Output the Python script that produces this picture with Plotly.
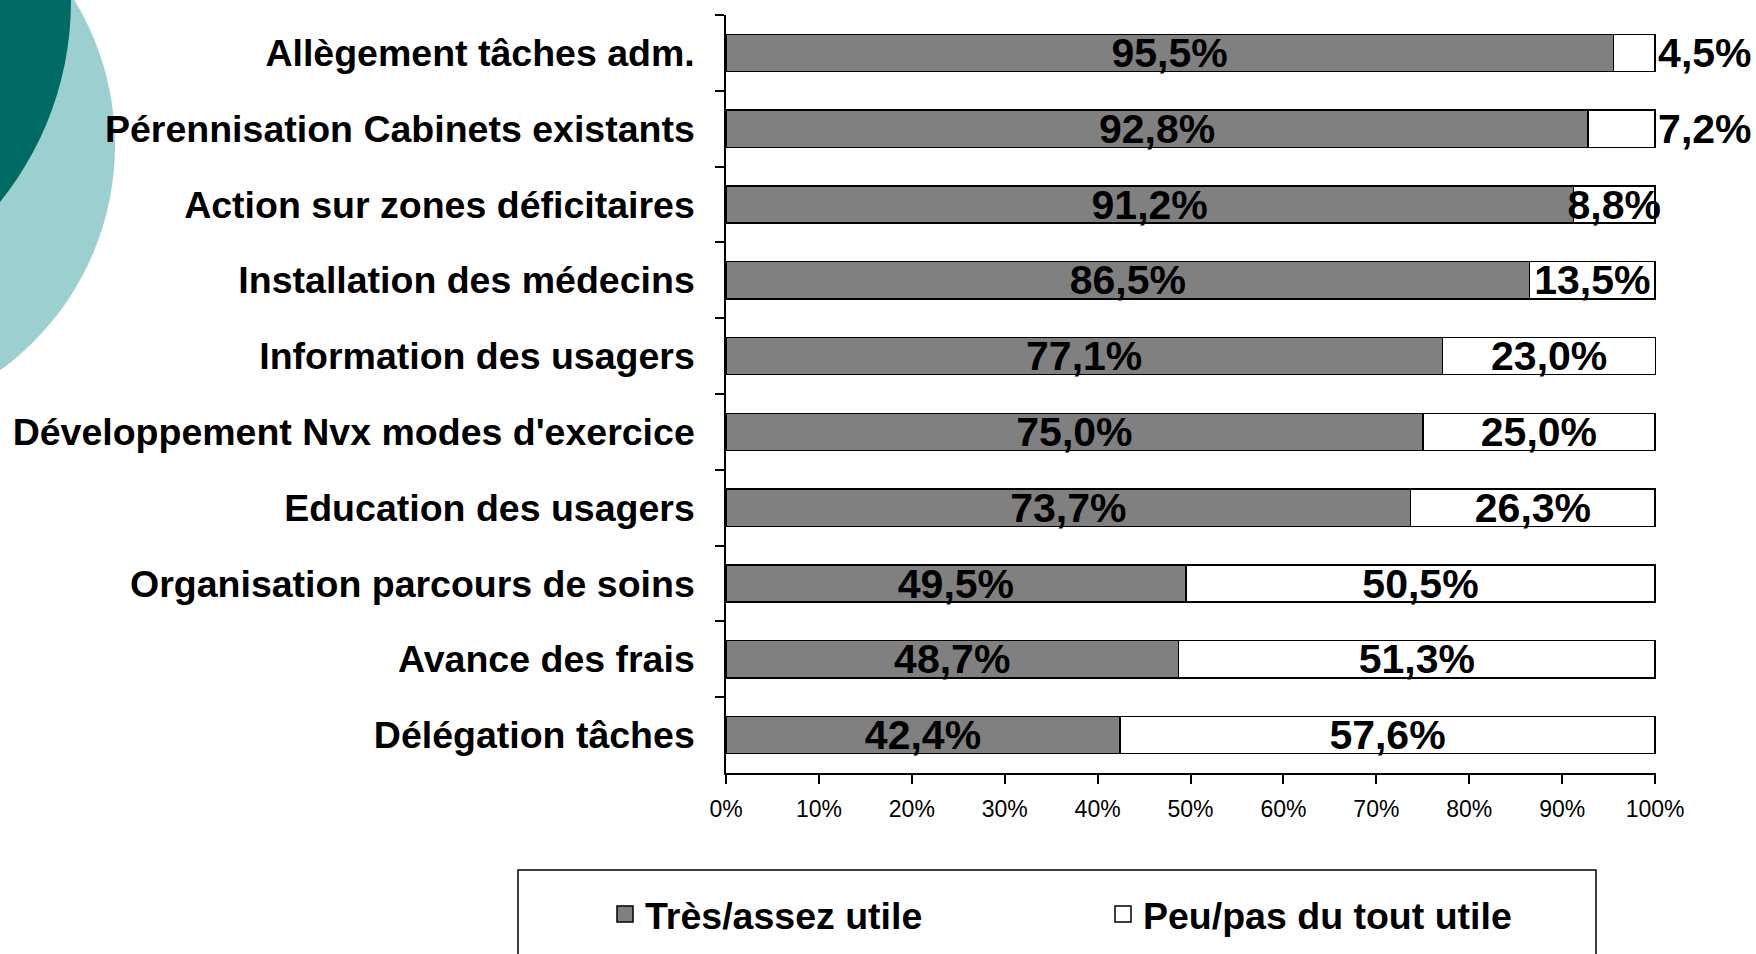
import plotly.graph_objects as go

categories = [
    "Allègement tâches adm.",
    "Pérennisation Cabinets existants",
    "Action sur zones déficitaires",
    "Installation des médecins",
    "Information des usagers",
    "Développement Nvx modes d'exercice",
    "Education des usagers",
    "Organisation parcours de soins",
    "Avance des frais",
    "Délégation tâches",
]
utile = [95.5, 92.8, 91.2, 86.5, 77.1, 75.0, 73.7, 49.5, 48.7, 42.4]
peu_utile = [4.5, 7.2, 8.8, 13.5, 23.0, 25.0, 26.3, 50.5, 51.3, 57.6]
series_names = ["Très/assez utile", "Peu/pas du tout utile"]
x_ticks = [0, 10, 20, 30, 40, 50, 60, 70, 80, 90, 100]
x_tick_labels = ["0%", "10%", "20%", "30%", "40%", "50%", "60%", "70%", "80%", "90%", "100%"]

W, H = 1756, 954
ML, MR, MT, MB = 726, 100, 15, 181
PW, PH = W - ML - MR, H - MT - MB

def px(x):
    return (x - ML) / PW

def py(y):
    return 1 - (y - MT) / PH

FONT = "Liberation Sans, Arial, sans-serif"
GRAY = "#808080"

fig = go.Figure()
fig.add_trace(go.Bar(
    y=categories, x=utile, orientation="h", name=series_names[0],
    marker=dict(color=GRAY, line=dict(color="black", width=1.5)),
    texttemplate="%{x:.1f}%", textposition="inside", insidetextanchor="middle",
    constraintext="none", textangle=0,
    textfont=dict(family=FONT, size=41, color="black", weight="bold"),
    showlegend=False, legendgroup="a", cliponaxis=False,
))
pos2 = ["outside" if v < 8 else "inside" for v in peu_utile]
fig.add_trace(go.Bar(
    y=categories, x=peu_utile, orientation="h", name=series_names[1],
    marker=dict(color="white", line=dict(color="black", width=1.5)),
    texttemplate="%{x:.1f}%", textposition=pos2, insidetextanchor="middle",
    constraintext="none", textangle=0,
    textfont=dict(family=FONT, size=41, color="black", weight="bold"),
    showlegend=False, legendgroup="b", cliponaxis=False,
))
# legend entries
fig.add_trace(go.Scatter(
    x=[None], y=[None], mode="markers", name=series_names[0], legendgroup="a",
    marker=dict(symbol="square", size=16, color=GRAY, line=dict(color="black", width=1.5)),
))
fig.add_trace(go.Scatter(
    x=[None], y=[None], mode="markers", name=series_names[1], legendgroup="b",
    marker=dict(symbol="square", size=16, color="white", line=dict(color="black", width=1.5)),
))

shapes = [
    # decorative circles (top-left)
    dict(type="circle", xref="paper", yref="paper", layer="below",
         x0=px(-440), x1=px(115), y0=py(-133), y1=py(423),
         fillcolor="#9CCFCF", line=dict(width=0)),
    dict(type="circle", xref="paper", yref="paper", layer="below",
         x0=px(-569), x1=px(71), y0=py(-319), y1=py(321),
         fillcolor="#006A64", line=dict(width=0)),
    # legend frame
    dict(type="rect", xref="paper", yref="paper",
         x0=px(518), x1=px(1596), y0=py(870), y1=py(1000),
         fillcolor="rgba(0,0,0,0)", line=dict(color="black", width=1.5)),
]

fig.update_layout(
    width=W, height=H,
    margin=dict(l=ML, r=MR, t=MT, b=MB, pad=0, autoexpand=False),
    barmode="stack", bargap=0.51,
    separators=", ",
    plot_bgcolor="white", paper_bgcolor="white",
    font=dict(family=FONT, color="black"),
    shapes=shapes,
    showlegend=True,
    legend=dict(
        orientation="h", x=px(605), y=py(914), xanchor="left", yanchor="middle",
        font=dict(family=FONT, size=37.5, color="black", weight="bold"),
        entrywidth=453, bgcolor="rgba(0,0,0,0)", borderwidth=0,
    ),
    xaxis=dict(
        range=[0, 100.1], tickvals=x_ticks, ticktext=x_tick_labels,
        showgrid=False, zeroline=False, automargin=False,
        showline=True, linecolor="black", linewidth=1.5,
        ticks="outside", ticklen=9, tickwidth=1.5, tickcolor="black",
        tickfont=dict(family=FONT, size=23, color="black"),
        ticklabelstandoff=6,
    ),
    yaxis=dict(
        categoryorder="array", categoryarray=categories, autorange="reversed",
        showgrid=False, zeroline=False, automargin=False,
        showline=True, linecolor="black", linewidth=1.5,
        ticks="outside", tickson="boundaries", ticklen=9, tickwidth=1.5, tickcolor="black",
        tickfont=dict(family=FONT, size=37.5, color="black", weight="bold"),
        ticklabelstandoff=22,
    ),
)

fig.write_html(
    "out.html",
    config={"displayModeBar": False},
    post_script="document.body.style.margin='0';document.body.style.overflow='hidden';",
)
